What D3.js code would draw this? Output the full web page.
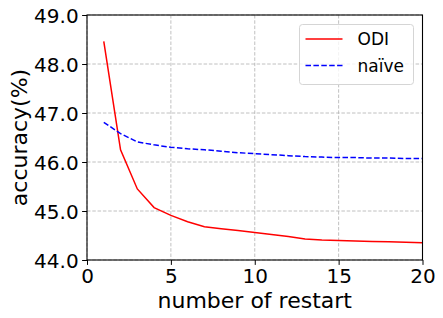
<!DOCTYPE html>
<html>
<head>
<meta charset="utf-8">
<script src="https://cdn.jsdelivr.net/npm/d3@7"></script>
<style>
  body { margin: 0; background: #fff; }
  svg { display: block; }
</style>
</head>
<body>
<div id="chart"></div>
<script>
// data
var restarts = [1, 2, 3, 4, 5, 6, 7, 8, 9, 10, 11, 12, 13, 14, 15, 16, 17, 18, 19, 20];
var odiAcc = [48.46, 46.25, 45.45, 45.07, 44.91, 44.78, 44.68, 44.64, 44.60, 44.56,
              44.52, 44.48, 44.43, 44.41, 44.40, 44.39, 44.38, 44.37, 44.36, 44.35];
var naiveAcc = [46.81, 46.58, 46.41, 46.35, 46.30, 46.27, 46.25, 46.22, 46.19, 46.17,
                46.15, 46.13, 46.11, 46.10, 46.09, 46.09, 46.08, 46.08, 46.07, 46.07];
var xTicks = [0, 5, 10, 15, 20];
var yTicks = [44, 45, 46, 47, 48, 49];
var seriesNames = ["ODI", "naïve"];

var W = 443, H = 318,
    fontFamily = "'DejaVu Sans', sans-serif",
    tickFont = 20,
    labelFont = 22,
    legendFont = 17;

var margin = { top: 15, left: 87, right: 20.5, bottom: 58 },
    width = W - margin.left - margin.right,
    height = H - margin.top - margin.bottom;

var svg = d3.select("#chart").append("svg")
    .attr("width", W)
    .attr("height", H);

var g = svg.append("g")
    .attr("transform", "translate(" + margin.left + "," + margin.top + ")");

var x = d3.scaleLinear().domain([0, 20]).range([0, width]);
var y = d3.scaleLinear().domain([44, 49]).range([height, 0]);

/* grid */
g.append("g").selectAll("line")
    .data(xTicks).enter().append("line")
    .attr("x1", function(d) { return x(d); })
    .attr("x2", function(d) { return x(d); })
    .attr("y1", 0).attr("y2", height)
    .attr("stroke", "#b0b0b0").attr("stroke-width", 0.8)
    .attr("stroke-dasharray", "3.5,1.8");

g.append("g").selectAll("line")
    .data(yTicks).enter().append("line")
    .attr("y1", function(d) { return y(d); })
    .attr("y2", function(d) { return y(d); })
    .attr("x1", 0).attr("x2", width)
    .attr("stroke", "#b0b0b0").attr("stroke-width", 0.8)
    .attr("stroke-dasharray", "3.5,1.8");

/* lines */
var line = d3.line()
    .x(function(d) { return x(d[0]); })
    .y(function(d) { return y(d[1]); });

g.append("path")
    .datum(d3.zip(restarts, odiAcc))
    .attr("d", line)
    .attr("fill", "none")
    .attr("stroke", "#ff0000")
    .attr("stroke-width", 1.5);

g.append("path")
    .datum(d3.zip(restarts, naiveAcc))
    .attr("d", line)
    .attr("fill", "none")
    .attr("stroke", "#0000ff")
    .attr("stroke-width", 1.5)
    .attr("stroke-dasharray", "5.5,2.4");

/* axes */
var xAxis = g.append("g")
    .attr("transform", "translate(0," + height + ")")
    .call(d3.axisBottom(x).tickValues(xTicks).tickSize(4.9).tickPadding(3.5).tickFormat(d3.format("d")));

var yAxis = g.append("g")
    .call(d3.axisLeft(y).tickValues(yTicks).tickSize(4.9).tickPadding(3.5).tickFormat(d3.format(".1f")));

[xAxis, yAxis].forEach(function(a) {
    a.select(".domain").remove();
    a.selectAll("line").attr("stroke", "#000").attr("stroke-width", 1);
    a.selectAll("text")
        .attr("font-family", fontFamily)
        .attr("font-size", tickFont)
        .attr("fill", "#000");
});
xAxis.selectAll("text").attr("dy", "0.725em");
yAxis.selectAll("text").attr("dy", "0.36em");

/* spines */
g.append("rect")
    .attr("width", width).attr("height", height)
    .attr("fill", "none")
    .attr("stroke", "#000")
    .attr("stroke-width", 1.1);

/* axis labels */
svg.append("text")
    .attr("x", margin.left + width / 2)
    .attr("y", 307.5)
    .attr("text-anchor", "middle")
    .attr("font-family", fontFamily)
    .attr("font-size", labelFont)
    .text("number of restart");

svg.append("text")
    .attr("transform", "translate(26.5," + (margin.top + height / 2) + ") rotate(-90)")
    .attr("text-anchor", "middle")
    .attr("font-family", fontFamily)
    .attr("font-size", labelFont)
    .text("accuracy(%)");

/* legend */
var legend = svg.append("g").attr("transform", "translate(299.5,24.5)");
legend.append("rect")
    .attr("width", 114).attr("height", 60)
    .attr("rx", 3).attr("ry", 3)
    .attr("fill", "#fff").attr("fill-opacity", 0.8)
    .attr("stroke", "#d5d5d5").attr("stroke-width", 1);

var colors = ["#ff0000", "#0000ff"],
    dashes = [null, "5.5,2.4"];

seriesNames.forEach(function(name, i) {
    var yy = 14.5 + i * 26.5;
    legend.append("line")
        .attr("x1", 6).attr("x2", 43)
        .attr("y1", yy).attr("y2", yy)
        .attr("stroke", colors[i]).attr("stroke-width", 1.5)
        .attr("stroke-dasharray", dashes[i]);
    legend.append("text")
        .attr("x", 58).attr("y", yy)
        .attr("dy", "0.36em")
        .attr("font-family", fontFamily)
        .attr("font-size", legendFont)
        .text(name);
});
</script>
</body>
</html>
